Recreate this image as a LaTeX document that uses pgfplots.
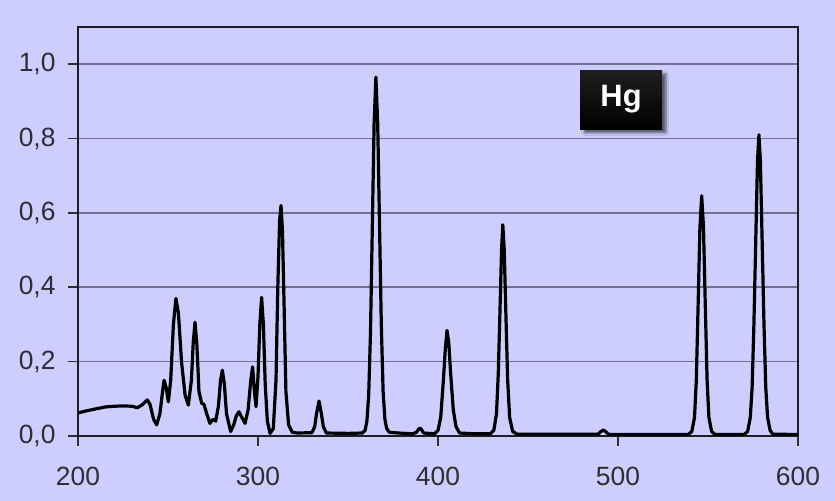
\documentclass[border=0pt]{standalone}
\usepackage{fontspec}
\setmainfont{Liberation Sans}
\usepackage{pgfplots}
\pgfplotsset{compat=1.18}
\usetikzlibrary{shadows,shadows.blur}

\definecolor{bgc}{RGB}{205,205,254}
\definecolor{gridc}{RGB}{112,112,145}
\definecolor{axc}{RGB}{30,30,34}
\definecolor{tickc}{RGB}{45,45,50}

\begin{document}
\begin{tikzpicture}
% page background
\fill[bgc] (0,0) rectangle (835bp,501bp);
\useasboundingbox (0,0) rectangle (835bp,501bp);
\begin{axis}[
  at={(78bp,65bp)}, anchor=south west,
  scale only axis, width=720bp, height=409bp,
  xmin=200, xmax=600, ymin=0, ymax=1.1,
  axis background/.style={fill=bgc},
  axis line style={draw=axc, line width=2.4bp},
  xtick={200,300,400,500,600},
  ytick={0,0.2,0.4,0.6,0.8,1.0},
  xtick pos=left, ytick pos=left,
  tick align=outside,
  major tick length=10bp,
  every tick/.style={draw=tickc, line width=1.6bp},
  ymajorgrids,
  grid style={draw=gridc, line width=1.7bp},
  /pgf/number format/assume math mode=true,
  ticklabel style={font=\fontsize{26.5}{30}\selectfont, text=tickc},
  yticklabel style={/pgf/number format/use comma, /pgf/number format/fixed,
    /pgf/number format/fixed zerofill, /pgf/number format/precision=1, xshift=-9bp},
  xticklabel style={/pgf/number format/1000 sep={}, yshift=-18bp},
]
\addplot[black, line width=3.2bp, line join=round] coordinates {
(200,0.062) (205,0.068) (210,0.073) (215,0.078) (220,0.080) (225,0.081)
(230,0.080) (233,0.076) (236,0.085) (238.5,0.097) (240,0.085) (242,0.045)
(243.7,0.030) (245.5,0.06) (247,0.12) (247.8,0.150) (249,0.13) (250.2,0.092)
(251.5,0.15) (253,0.30) (254.4,0.370) (255.8,0.33) (257.5,0.20) (259.5,0.11)
(261.3,0.083) (263,0.15) (264,0.25) (265,0.306) (266,0.25) (267.2,0.12)
(268.7,0.088) (270,0.085) (271.5,0.06) (273.3,0.034) (275,0.045) (276.5,0.04)
(278,0.08) (279.2,0.15) (280.2,0.177) (281.3,0.14) (282.5,0.06) (284.8,0.012)
(286.5,0.03) (288,0.055) (289.4,0.065) (291,0.05) (292.8,0.034) (294.5,0.07)
(296,0.15) (297,0.186) (298,0.12) (298.9,0.079) (300,0.16) (301,0.30)
(302,0.373) (303,0.30) (304,0.14) (305.2,0.04) (306.7,0.007) (308.5,0.02)
(310,0.15) (311,0.40) (312,0.58) (312.8,0.620) (313.6,0.55) (314.5,0.35)
(315.5,0.12) (317,0.03) (319,0.01) (322,0.008) (330,0.009) (331.5,0.025)
(332.5,0.06) (333.9,0.094) (335.2,0.06) (336.3,0.025) (338,0.008)
(350,0.007) (358,0.008) (359.5,0.015) (360.5,0.04) (361.5,0.11) (362.5,0.28)
(363.5,0.56) (364.5,0.84) (365.5,0.965) (366.5,0.84) (367.5,0.57) (368.5,0.30)
(369.5,0.12) (370.5,0.045) (371.5,0.02) (373,0.01) (378,0.008) (386,0.006)
(388,0.01) (389.5,0.02) (390.5,0.02) (392,0.008) (398,0.006) (400,0.015)
(401.5,0.05) (403,0.15) (404,0.23) (405,0.284) (406,0.25) (407,0.17)
(408.5,0.07) (410,0.025) (412,0.008) (420,0.006) (429,0.006) (431,0.015)
(432.5,0.06) (433.5,0.17) (434.5,0.35) (435.3,0.50) (436,0.568) (436.8,0.50)
(437.7,0.33) (438.7,0.15) (439.8,0.05) (441.5,0.012) (444,0.005) (470,0.005)
(489,0.005) (490.5,0.012) (492,0.016) (493.5,0.01) (495,0.004) (520,0.004)
(539,0.004) (541,0.012) (542.5,0.05) (543.5,0.15) (544.5,0.35) (545.5,0.56)
(546.5,0.646) (547.5,0.56) (548.5,0.35) (549.5,0.15) (550.5,0.05) (552,0.012)
(554,0.004) (562,0.004) (570,0.004) (572,0.012) (573.5,0.05) (574.5,0.13)
(575.5,0.30) (576.5,0.52) (577.5,0.74) (578.3,0.81) (579.1,0.74) (580.1,0.52)
(581.1,0.30) (582.1,0.13) (583.1,0.05) (584.5,0.015) (586,0.005) (600,0.004)
};
% element label
\node[top color=black!88, bottom color=black, text=white,
      font=\fontsize{31}{34}\selectfont\bfseries,
      minimum width=82bp, minimum height=59bp, inner sep=0pt,
      blur shadow={shadow xshift=4bp, shadow yshift=-4bp, shadow blur steps=6, shadow opacity=55}]
  at (axis cs:501.7,0.905) {Hg};
\end{axis}
\end{tikzpicture}
\end{document}
